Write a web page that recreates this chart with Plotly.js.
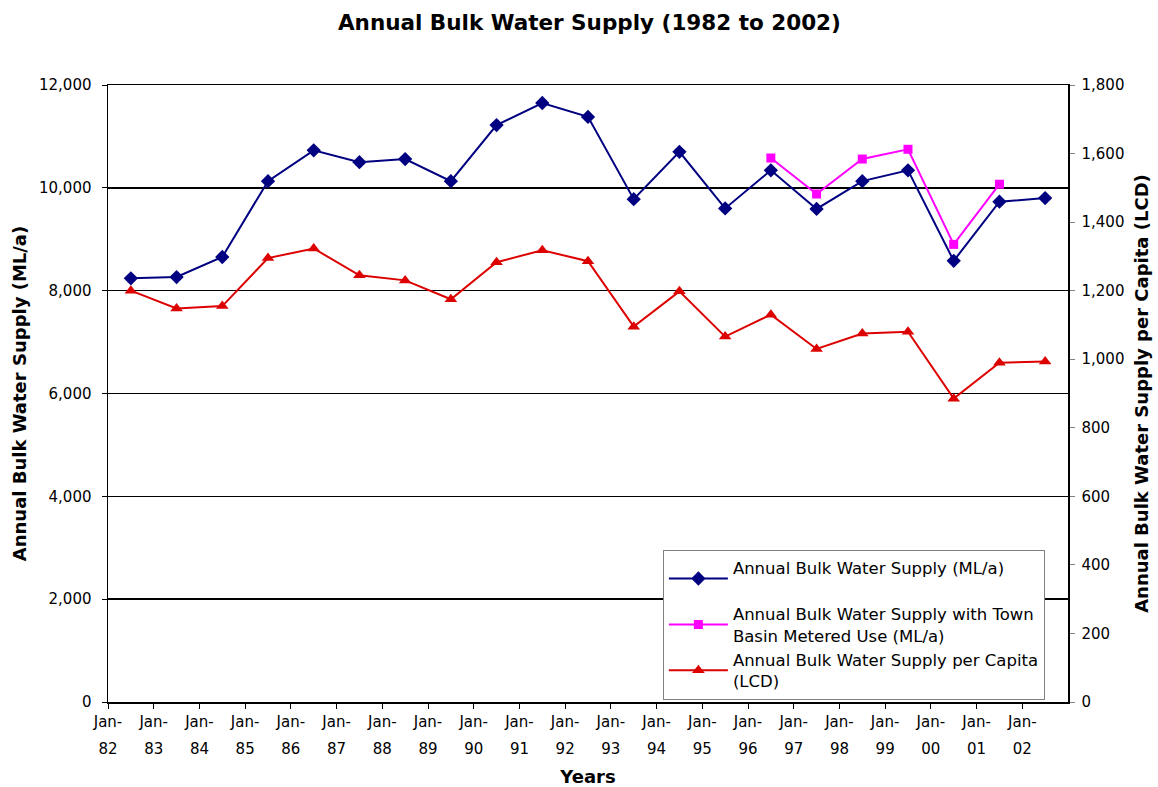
<!DOCTYPE html>
<html>
<head>
<meta charset="utf-8">
<script src="https://cdn.plot.ly/plotly-3.0.1.min.js"></script>
<style>
html,body{margin:0;padding:0;background:#fff;}
#chart{width:1158px;height:787px;}
</style>
</head>
<body>
<div id="chart"></div>
<script>
// Data
const years = ["82","83","84","85","86","87","88","89","90","91","92","93","94","95","96","97","98","99","00","01","02"];
const bulkSupply = [8240, 8265, 8655, 10130, 10730, 10500, 10560, 10130, 11220, 11650, 11380, 9780, 10700, 9600, 10340, 9590, 10130, 10340, 8580, 9730, 9800];
const bulkSupplyTownBasin = [null, null, null, null, null, null, null, null, null, null, null, null, null, null, 10580, 9880, 10560, 10750, 8900, 10070, null];
const perCapita = [1200, 1148, 1155, 1295, 1323, 1245, 1230, 1175, 1283, 1318, 1286, 1095, 1198, 1066, 1130, 1030, 1075, 1080, 885, 990, 993];

const seriesNames = [
  "Annual Bulk Water Supply (ML/a)<br> ",
  "Annual Bulk Water Supply with Town<br>Basin Metered Use (ML/a)",
  "Annual Bulk Water Supply per Capita<br>(LCD)"
];

// category centres and boundaries on a numeric axis
const xCentres = years.map((_, i) => i + 0.5);
const tickPos = years.map((_, i) => i);
const tickTop = years.map(() => "Jan-");

const FONT = "DejaVu Sans, Verdana, sans-serif";

const traces = [
  {
    x: xCentres, y: bulkSupply, name: seriesNames[0], type: "scatter", mode: "lines+markers",
    line: {color: "#000080", width: 2}, marker: {symbol: "diamond", size: 11, color: "#000080"},
    xaxis: "x", yaxis: "y"
  },
  {
    x: xCentres, y: bulkSupplyTownBasin, name: seriesNames[1], type: "scatter", mode: "lines+markers",
    line: {color: "#ff00ff", width: 2}, marker: {symbol: "square", size: 9, color: "#ff00ff"},
    xaxis: "x", yaxis: "y", connectgaps: false
  },
  {
    x: xCentres, y: perCapita, name: seriesNames[2], type: "scatter", mode: "lines+markers",
    line: {color: "#dd0000", width: 2}, marker: {symbol: "triangle-up", size: 11, color: "#dd0000"},
    xaxis: "x", yaxis: "y2"
  }
];

const layout = {
  width: 1158, height: 787,
  paper_bgcolor: "#fff", plot_bgcolor: "#fff",
  margin: {l: 108, r: 90, t: 85, b: 85, pad: 0},
  font: {family: FONT, size: 15, color: "#000"},
  title: {text: "<b>Annual Bulk Water Supply (1982 to 2002)</b>", x: 0.509, xanchor: "center", y: 0.972, yanchor: "middle",
          font: {family: FONT, size: 21.5, color: "#000"}},
  showlegend: true,
  legend: {
    x: 0.578, y: 0.004, xanchor: "left", yanchor: "bottom",
    bgcolor: "#fff", bordercolor: "#808080", borderwidth: 1,
    font: {family: FONT, size: 16.5, color: "#000"},
    tracegroupgap: 0, itemwidth: 59, entrywidth: 406, entrywidthmode: "pixels"
  },
  xaxis: {
    range: [0, 21], tickmode: "array", tickvals: tickPos, ticktext: tickTop,
    showgrid: false, zeroline: false, showline: true, linecolor: "#000", linewidth: 1.5, mirror: true,
    ticks: "outside", ticklen: 5, tickcolor: "#000", tickwidth: 1,
    tickfont: {family: FONT, size: 15, color: "#000"},
    title: {text: "<b>Years</b>", font: {family: FONT, size: 18, color: "#000"}, standoff: 48}
  },
  xaxis2: {
    overlaying: "x", anchor: "y", side: "bottom", range: [0, 21],
    tickmode: "array", tickvals: tickPos, ticktext: years,
    showgrid: false, zeroline: false, showline: false, ticks: "", ticklabelstandoff: 36,
    tickfont: {family: FONT, size: 15, color: "#000"}
  },
  yaxis: {
    range: [0, 12000], dtick: 2000, tick0: 0, tickformat: ",d",
    showgrid: true, gridcolor: "#000", gridwidth: 1.5, zeroline: false,
    showline: true, linecolor: "#000", linewidth: 1.5,
    ticks: "outside", ticklen: 5, tickcolor: "#000", ticklabelstandoff: 7,
    tickfont: {family: FONT, size: 15, color: "#000"},
    title: {text: "<b>Annual Bulk Water Supply (ML/a)</b>", font: {family: FONT, size: 18, color: "#000"}, standoff: 7}
  },
  yaxis2: {
    overlaying: "y", side: "right", anchor: "x", range: [0, 1800], dtick: 200, tick0: 0, tickformat: ",d",
    showgrid: false, zeroline: false, showline: true, linecolor: "#000", linewidth: 1.5,
    ticks: "outside", ticklen: 5, tickcolor: "#808080", ticklabelstandoff: 4,
    tickfont: {family: FONT, size: 15, color: "#000"},
    title: {text: "<b>Annual Bulk Water Supply per Capita (LCD)</b>", font: {family: FONT, size: 18, color: "#000"}, standoff: 12}
  }
};

// empty trace to activate the second-line tick labels of the date axis
traces.push({x: [0.5], y: [null], xaxis: "x2", yaxis: "y", showlegend: false, hoverinfo: "skip", type: "scatter", mode: "markers"});

Plotly.newPlot("chart", traces, layout, {displayModeBar: false, staticPlot: true});
</script>
</body>
</html>
